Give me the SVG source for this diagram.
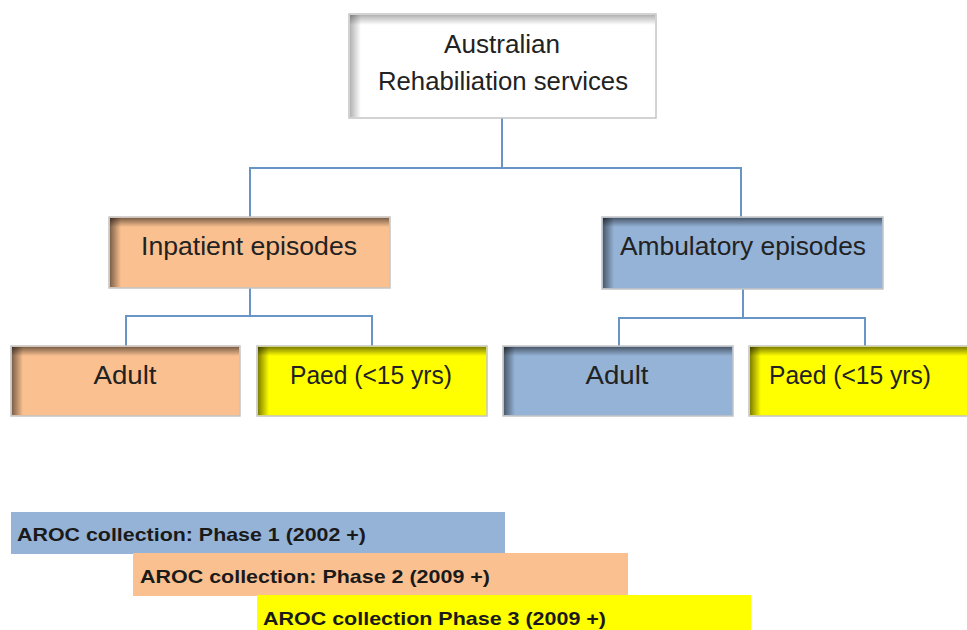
<svg xmlns="http://www.w3.org/2000/svg" width="967" height="630" viewBox="0 0 967 630">
<style>
.box{stroke:#c4c4c4;stroke-width:1.5}
.t{font-family:"Liberation Sans",Arial,sans-serif;font-size:25px;fill:#222;text-anchor:middle}
.b{font-family:"Liberation Sans",Arial,sans-serif;font-size:19px;font-weight:bold;fill:#1a1a1a}
.c{fill:none;stroke:#4f81bd;stroke-width:2;opacity:0.85}
</style>
<defs>
<linearGradient id="gt" x1="0" y1="0" x2="0" y2="1">
<stop offset="0" stop-color="#000" stop-opacity="0.5"/>
<stop offset="1" stop-color="#000" stop-opacity="0"/>
</linearGradient>
<linearGradient id="gl" x1="0" y1="0" x2="1" y2="0">
<stop offset="0" stop-color="#000" stop-opacity="0.5"/>
<stop offset="1" stop-color="#000" stop-opacity="0"/>
</linearGradient>
</defs>
<rect width="967" height="630" fill="#fff"/>
<g id="connectors">
<path class="c" d="M502 118V168M250 217V168H741V217"/>
<path class="c" d="M250 288V316M126 346V316H372V346"/>
<path class="c" d="M743 289V318M619 346V318H865V346"/>
</g>
<g id="n-root">
<rect class="box" x="349" y="14" width="307" height="104" fill="#fff"/>
<rect x="350" y="15" width="305" height="10" fill="url(#gt)" opacity="0.6"/>
<rect x="350" y="15" width="11" height="102" fill="url(#gl)" opacity="0.6"/>
<text class="t" x="502" y="53" textLength="116" lengthAdjust="spacingAndGlyphs">Australian</text>
<text class="t" x="503" y="90" textLength="250" lengthAdjust="spacingAndGlyphs">Rehabiliation services</text>
</g>
<g id="n-inpatient">
<rect class="box" x="109" y="217" width="281" height="71" fill="#fac090"/>
<rect x="110" y="218" width="279" height="9" fill="url(#gt)"/>
<rect x="110" y="218" width="11" height="69" fill="url(#gl)"/>
<text class="t" x="249" y="255" textLength="216" lengthAdjust="spacingAndGlyphs">Inpatient episodes</text>
</g>
<g id="n-ambulatory">
<rect class="box" x="602" y="217" width="281" height="72" fill="#95b3d7"/>
<rect x="603" y="218" width="279" height="9" fill="url(#gt)"/>
<rect x="603" y="218" width="11" height="70" fill="url(#gl)"/>
<text class="t" x="743" y="255" textLength="246" lengthAdjust="spacingAndGlyphs">Ambulatory episodes</text>
</g>
<g id="n-in-adult">
<rect class="box" x="11" y="346" width="229" height="70" fill="#fac090"/>
<rect x="12" y="347" width="227" height="9" fill="url(#gt)"/>
<rect x="12" y="347" width="11" height="68" fill="url(#gl)"/>
<text class="t" x="125" y="384" textLength="63" lengthAdjust="spacingAndGlyphs">Adult</text>
</g>
<g id="n-in-paed">
<rect class="box" x="257" y="346" width="230" height="70" fill="#ffff00"/>
<rect x="258" y="347" width="228" height="9" fill="url(#gt)"/>
<rect x="258" y="347" width="11" height="68" fill="url(#gl)"/>
<text class="t" x="371" y="384" textLength="162" lengthAdjust="spacingAndGlyphs">Paed (&lt;15 yrs)</text>
</g>
<g id="n-amb-adult">
<rect class="box" x="503" y="346" width="230" height="70" fill="#95b3d7"/>
<rect x="504" y="347" width="228" height="9" fill="url(#gt)"/>
<rect x="504" y="347" width="11" height="68" fill="url(#gl)"/>
<text class="t" x="617" y="384" textLength="63" lengthAdjust="spacingAndGlyphs">Adult</text>
</g>
<g id="n-amb-paed">
<rect class="box" x="749" y="346" width="230" height="70" fill="#ffff00"/>
<rect x="750" y="347" width="228" height="9" fill="url(#gt)"/>
<rect x="750" y="347" width="11" height="68" fill="url(#gl)"/>
<text class="t" x="850" y="384" textLength="162" lengthAdjust="spacingAndGlyphs">Paed (&lt;15 yrs)</text>
</g>
<g id="phases">
<rect x="11" y="512" width="494" height="42" fill="#95b3d7"/>
<rect x="133" y="553" width="495" height="43" fill="#fac090"/>
<rect x="257" y="595" width="494" height="40" fill="#ffff00"/>
<text class="b" x="17" y="541" textLength="349" lengthAdjust="spacingAndGlyphs">AROC collection: Phase 1 (2002 +)</text>
<text class="b" x="140" y="583" textLength="350" lengthAdjust="spacingAndGlyphs">AROC collection: Phase 2 (2009 +)</text>
<text class="b" x="263" y="625" textLength="343" lengthAdjust="spacingAndGlyphs">AROC collection Phase 3 (2009 +)</text>
</g>
</svg>
